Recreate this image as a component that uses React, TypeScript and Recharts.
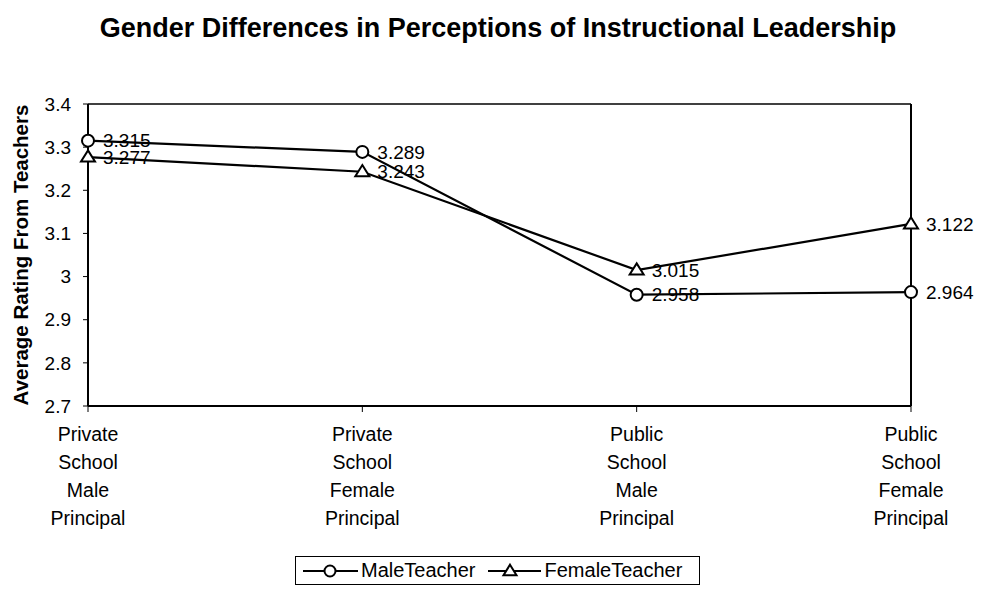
import { Line, LineChart, XAxis, YAxis, ReferenceLine, LabelList } from 'recharts';

const CATEGORIES = [
  'Private School Male Principal',
  'Private School Female Principal',
  'Public School Male Principal',
  'Public School Female Principal',
];
const MALE_TEACHER = [3.315, 3.289, 2.958, 2.964];
const FEMALE_TEACHER = [3.277, 3.243, 3.015, 3.122];
const Y_TICKS = [2.7, 2.8, 2.9, 3.0, 3.1, 3.2, 3.3, 3.4];

const FONT = '"Liberation Sans", Arial, sans-serif';

const data = CATEGORIES.map((name, i) => ({
  name,
  male: MALE_TEACHER[i],
  female: FEMALE_TEACHER[i],
}));

function Triangle({ cx, cy, size = 7 }: { cx?: number; cy?: number; size?: number }) {
  if (cx == null || cy == null) return null;
  const h = size * 1.6;
  const d = `M${cx},${cy - h * 0.6} L${cx + size},${cy + h * 0.4} L${cx - size},${cy + h * 0.4} Z`;
  return <path d={d} fill="#fff" stroke="#000" strokeWidth={2} />;
}

function CategoryTick({ x, y, payload }: any) {
  const words = String(payload.value).split(' ');
  return (
    <text x={x} y={y} textAnchor="middle" fontSize={19.5} fill="#000" fontFamily={FONT}>
      {words.map((w, i) => (
        <tspan key={i} x={x} dy={i === 0 ? 27 : 28}>
          {w}
        </tspan>
      ))}
    </text>
  );
}

function YLabel({ viewBox }: any) {
  const cy = viewBox.y + viewBox.height / 2;
  return (
    <text
      x={20}
      y={cy}
      transform={`rotate(-90, 20, ${cy})`}
      textAnchor="middle"
      dominantBaseline="central"
      fontSize={20.5}
      fontWeight="bold"
      fill="#000"
      fontFamily={FONT}
    >
      Average Rating From Teachers
    </text>
  );
}

function LegendBox() {
  return (
    <div
      style={{
        position: 'absolute',
        left: 295,
        top: 556,
        width: 405,
        height: 29,
        border: '1.5px solid #000',
        display: 'flex',
        alignItems: 'center',
        fontFamily: FONT,
        fontSize: 20,
        boxSizing: 'border-box',
        paddingLeft: 7,
      }}
    >
      <svg width={55} height={20}>
        <line x1={0} y1={10} x2={55} y2={10} stroke="#000" strokeWidth={2} />
        <circle cx={27} cy={10} r={5.5} fill="#fff" stroke="#000" strokeWidth={2} />
      </svg>
      <span style={{ marginLeft: 3 }}>MaleTeacher</span>
      <svg width={53} height={20} style={{ marginLeft: 12 }}>
        <line x1={0} y1={10} x2={53} y2={10} stroke="#000" strokeWidth={2} />
        <Triangle cx={22} cy={10} size={6.5} />
      </svg>
      <span style={{ marginLeft: 4 }}>FemaleTeacher</span>
    </div>
  );
}

export default function App() {
  return (
    <div style={{ position: 'absolute', left: 0, top: 0, width: 983, height: 592, background: '#fff' }}>
      <div
        style={{
          position: 'absolute',
          left: 0,
          top: 13,
          width: 996,
          textAlign: 'center',
          fontFamily: FONT,
          fontWeight: 'bold',
          fontSize: 27,
          whiteSpace: 'nowrap',
        }}
      >
        Gender Differences in Perceptions of Instructional Leadership
      </div>
      <LineChart
        width={983}
        height={592}
        data={data}
        margin={{ top: 104, right: 72, bottom: 66, left: 38 }}
      >
        <XAxis
          dataKey="name"
          height={120}
          interval={0}
          tick={<CategoryTick />}
          tickSize={6}
          axisLine={{ stroke: '#000', strokeWidth: 2 }}
          tickLine={{ stroke: '#000' }}
        />
        <YAxis
          width={50}
          domain={[2.7, 3.4]}
          ticks={Y_TICKS}
          tickFormatter={(v: number) => String(Number(v.toFixed(1)))}
          tick={{ fill: '#000', fontSize: 19, fontFamily: FONT }}
          tickSize={5}
          tickMargin={12}
          axisLine={{ stroke: '#000', strokeWidth: 2 }}
          tickLine={{ stroke: '#000' }}
          label={<YLabel />}
        />
        <ReferenceLine y={3.4} stroke="#000" strokeWidth={1.5} />
        <ReferenceLine x={CATEGORIES[CATEGORIES.length - 1]} stroke="#000" strokeWidth={2} />
        <Line
          dataKey="male"
          stroke="#000"
          strokeWidth={2.2}
          isAnimationActive={false}
          dot={{ r: 6, fill: '#fff', stroke: '#000', strokeWidth: 2 }}
        >
          <LabelList
            dataKey="male"
            position="right"
            offset={15}
            fill="#000"
            fontSize={19}
            fontFamily={FONT}
            formatter={(v: any) => Number(v).toFixed(3)}
          />
        </Line>
        <Line
          dataKey="female"
          stroke="#000"
          strokeWidth={2.2}
          isAnimationActive={false}
          dot={(p: any) => <Triangle key={p.index} cx={p.cx} cy={p.cy} />}
        >
          <LabelList
            dataKey="female"
            position="right"
            offset={15}
            fill="#000"
            fontSize={19}
            fontFamily={FONT}
            formatter={(v: any) => Number(v).toFixed(3)}
          />
        </Line>
      </LineChart>
      <LegendBox />
    </div>
  );
}
